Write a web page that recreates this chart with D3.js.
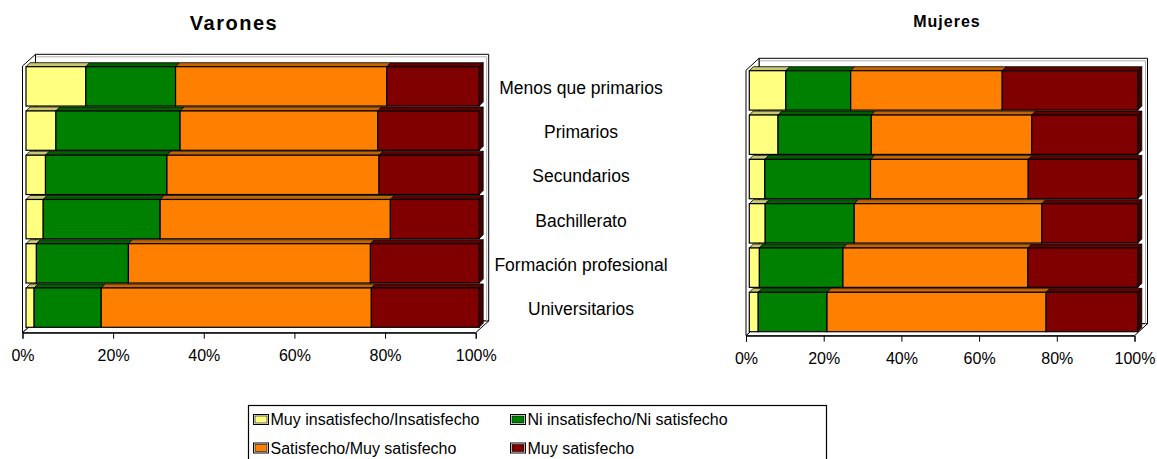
<!DOCTYPE html>
<html><head><meta charset="utf-8">
<script src="https://cdn.jsdelivr.net/npm/d3@7"></script>
<style>
html,body{margin:0;padding:0;background:#fff;}
svg{display:block;font-family:"Liberation Sans",Arial,sans-serif;}
</style></head>
<body>
<svg id="chart" width="1157" height="459"></svg>
<script>
// ---- data ----
const categories = ["Menos que primarios","Primarios","Secundarios","Bachillerato","Formación profesional","Universitarios"];
const seriesNames = ["Muy insatisfecho/Insatisfecho","Ni insatisfecho/Ni satisfecho","Satisfecho/Muy satisfecho","Muy satisfecho"];
const seriesColors = ["#FFFF80","#008000","#FF8000","#800000"];
const topColors = ["#C8C870","#006000","#C86400","#600000"];
const sideColors = ["#9a9a50","#004000","#904800","#400000"];
const tickValues = [0,20,40,60,80,100];
const tickLabels = ["0%","20%","40%","60%","80%","100%"];

const varonesInsat = [13.2, 6.6, 4.3, 3.8, 2.3, 1.8];
const varonesNi    = [19.8, 27.4, 26.8, 25.8, 20.3, 14.8];
const varonesSat   = [46.6, 43.6, 46.8, 50.8, 53.4, 59.6];
const varonesMuy   = [20.4, 22.4, 22.1, 19.6, 24.0, 23.8];

const mujeresInsat = [9.4, 7.4, 4.0, 4.1, 2.6, 2.3];
const mujeresNi    = [16.7, 24.0, 27.2, 22.9, 21.5, 17.7];
const mujeresSat   = [39.0, 41.3, 40.6, 48.3, 47.6, 56.4];
const mujeresMuy   = [34.9, 27.3, 28.2, 24.7, 28.3, 23.6];

// ---- layout ----
const svg = d3.select("#chart");
const keys = ["a","b","c","d"];
function rows(s1,s2,s3,s4){ return categories.map((c,i)=>({cat:c,a:s1[i],b:s2[i],c:s3[i],d:s4[i]})); }

function drawChart(cfg, data){
  const g = svg.append("g");
  const D = cfg.depth; // wall depth vector
  const xAxis = d3.scaleLinear().domain([0,100]).range([cfg.ax0, cfg.ax1]);
  const xBar = d3.scaleLinear().domain([0,100]).range([cfg.ax0+cfg.barOff[0], cfg.ax1+cfg.barOff[0]]);
  const y = d3.scaleBand().domain(categories).range([cfg.barTop, cfg.barBottom]).paddingInner(0.111).paddingOuter(0);
  const floorY = cfg.floorY;
  const topY = cfg.wallTop;
  const line = d3.line();

  // back wall + left wall + floor
  g.append("path").attr("d", line([[cfg.ax0+D[0],topY],[cfg.ax1+D[0],topY],[cfg.ax1+D[0],floorY+D[1]],[cfg.ax0+D[0],floorY+D[1]]])+"Z")
    .attr("fill","#fff").attr("stroke","#000").attr("stroke-width",1);
  g.append("path").attr("d", line([[cfg.ax0,topY-D[1]],[cfg.ax0+D[0],topY],[cfg.ax0+D[0],floorY+D[1]],[cfg.ax0,floorY]])+"Z")
    .attr("fill","#fff").attr("stroke","#000").attr("stroke-width",1);
  g.append("path").attr("d", line([[cfg.ax0,floorY],[cfg.ax1,floorY],[cfg.ax1+D[0],floorY+D[1]],[cfg.ax0+D[0],floorY+D[1]]])+"Z")
    .attr("fill","#fff").attr("stroke","#000").attr("stroke-width",1);
  // gray inner shading lines
  g.append("path").attr("d", line([[cfg.ax0+D[0]+1,topY+2.5],[cfg.ax1+D[0]-2,topY+2.5],[cfg.ax1+D[0]-2,floorY+D[1]]]))
    .attr("fill","none").attr("stroke","#b0b0b0").attr("stroke-width",1);

  const stack = d3.stack().keys(keys)(data);
  const bd = cfg.barDepth;
  stack.forEach((layer, si)=>{
    const lg = g.append("g");
    layer.forEach(d=>{
      const x0 = xBar(d[0]), x1 = xBar(d[1]);
      const y0 = y(d.data.cat), h = y.bandwidth();
      // top face
      lg.append("path").attr("d", line([[x0,y0],[x0+bd,y0-bd],[x1+bd,y0-bd],[x1,y0]])+"Z")
        .attr("fill", topColors[si]).attr("stroke","#000").attr("stroke-width",0.8).attr("stroke-linejoin","round");
      if (si === keys.length-1) {
        lg.append("path").attr("d", line([[x1,y0],[x1+bd,y0-bd],[x1+bd,y0+h-bd],[x1,y0+h]])+"Z")
          .attr("fill", sideColors[si]).attr("stroke","#000").attr("stroke-width",0.8);
      }
      lg.append("rect").attr("x",x0).attr("y",y0).attr("width",x1-x0).attr("height",h)
        .attr("fill", seriesColors[si]).attr("stroke","#000").attr("stroke-width",1.2);
    });
  });

  // axis
  const ax = g.append("g").attr("transform",`translate(0,${floorY})`)
    .call(d3.axisBottom(xAxis).tickValues(tickValues).tickFormat((d,i)=>tickLabels[i]).tickSize(6).tickPadding(11));
  ax.select(".domain").attr("stroke","#000");
  ax.selectAll(".tick line").attr("stroke","#000");
  ax.selectAll("text").attr("font-size",16).attr("font-family","Liberation Sans, Arial, sans-serif").attr("fill","#000").attr("dy","0.7em");

  // title
  g.append("text").attr("x",cfg.titleX).attr("y",cfg.titleY).attr("text-anchor","middle")
    .attr("font-size",cfg.titleSize).attr("font-weight","bold").attr("letter-spacing",cfg.titleSpacing).text(cfg.title);

  if (cfg.labels) {
    g.selectAll(".cl").data(categories).enter().append("text")
      .attr("x", cfg.labelX).attr("y", d=>y(d)+y.bandwidth()/2+7.5)
      .attr("text-anchor","middle").attr("font-size",17.5).text(d=>d);
  }
}

drawChart({title:"Varones", titleX:234, titleY:29.5, titleSize:20, titleSpacing:"1.5px", ax0:22.5, ax1:475.7, floorY:332.7, wallTop:54.3,
  depth:[13,-11.7], barOff:[3.5,0], barTop:66.7, barBottom:327.3, barDepth:4, labels:true, labelX:581},
  rows(varonesInsat,varonesNi,varonesSat,varonesMuy));
drawChart({title:"Mujeres", titleX:947, titleY:27, titleSize:16, titleSpacing:"1px", ax0:746, ax1:1134.5, floorY:335.7, wallTop:58.3,
  depth:[13,-12], barOff:[3.3,0], barTop:70.7, barBottom:331.7, barDepth:4, labels:false},
  rows(mujeresInsat,mujeresNi,mujeresSat,mujeresMuy));

// legend
const lg = svg.append("g");
lg.append("rect").attr("x",248.5).attr("y",405.5).attr("width",578).attr("height",60).attr("fill","#fff").attr("stroke","#000").attr("stroke-width",1.2);
const legPos = [[253,425],[510,425],[253,453.5],[510,453.5]];
seriesNames.forEach((n,i)=>{
  const [lx,ly] = legPos[i];
  lg.append("rect").attr("x",lx+0.5).attr("y",ly-10.5).attr("width",15).attr("height",10).attr("fill","#fff").attr("stroke","#000").attr("stroke-width",1);
  lg.append("rect").attr("x",lx+2).attr("y",ly-9).attr("width",12).attr("height",7).attr("fill",seriesColors[i]).attr("stroke","#000").attr("stroke-width",0.6);
  lg.append("text").attr("x",lx+17.5).attr("y",ly).attr("font-size",16).text(n);
});
</script>
</body></html>
